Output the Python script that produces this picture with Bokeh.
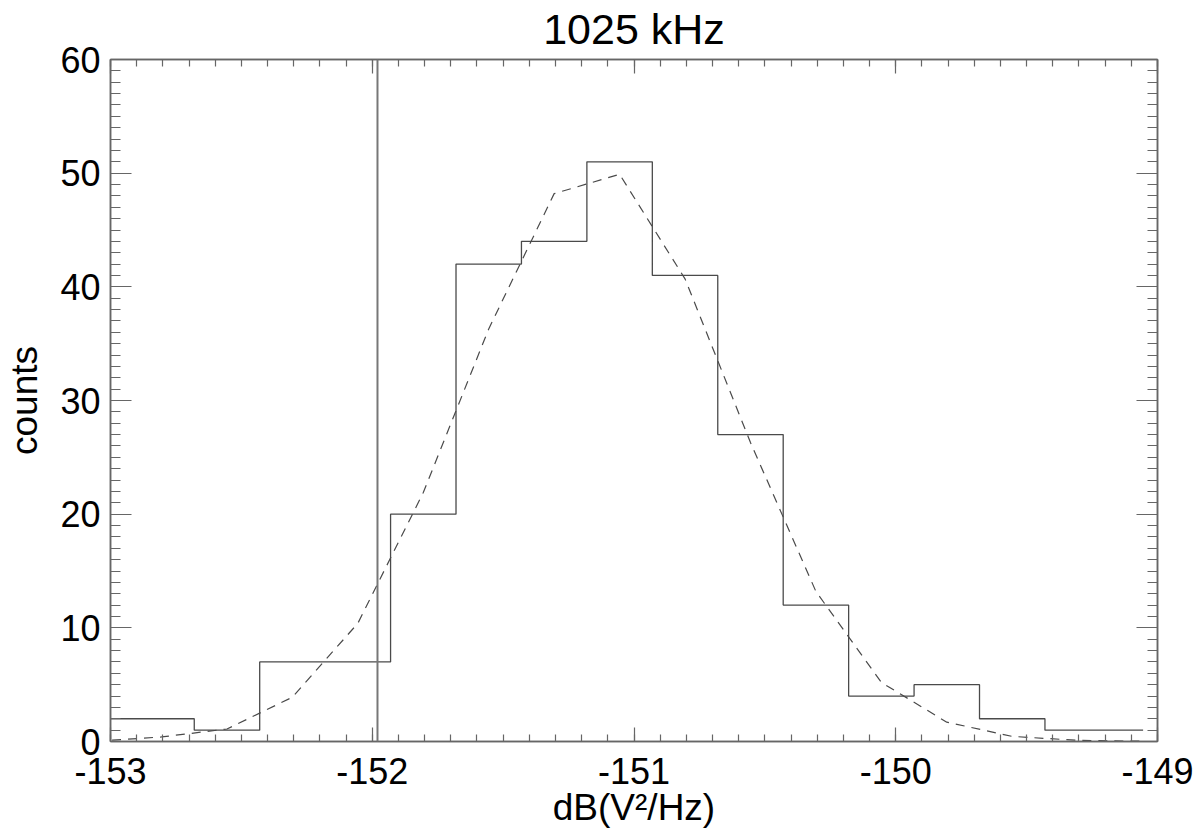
from bokeh.plotting import figure
from bokeh.models import (Range1d, LinearAxis, SingleIntervalTicker, Span,
                          PrintfTickFormatter, CustomLabelingPolicy)
from bokeh.embed import file_html
from bokeh.resources import INLINE

# ---- data ----
bin_centers = [-153.055, -152.805, -152.555, -152.305, -152.055, -151.805,
               -151.555, -151.305, -151.055, -150.805, -150.555, -150.305,
               -150.055, -149.805, -149.555, -149.305, -149.055]
counts = [2, 2, 1, 7, 7, 20, 42, 44, 51, 41, 27, 12, 4, 5, 2, 1, 1]
fit_counts = [0.02, 0.4, 1.1, 3.9, 10.4, 21.9, 36.3, 48.2, 49.9, 40.7,
              26.3, 13.2, 5.2, 1.7, 0.45, 0.1, 0.02]
threshold_db = -151.98
x_limits = [-153, -149]
y_limits = [0, 60]
title_text = "1025 kHz"
x_label = "dB(V\u00b2/Hz)"
y_label = "counts"

FONT = "Liberation Sans"
LINE = "#4a4a4a"
AXC = "#666666"

p = figure(width=1200, height=839, output_backend="svg", toolbar_location=None,
           x_range=Range1d(*x_limits), y_range=Range1d(*y_limits),
           min_border_left=110, min_border_right=43, min_border_top=59,
           min_border_bottom=98)
p.background_fill_color = "white"
p.border_fill_color = "white"
p.outline_line_color = AXC
p.outline_line_width = 1.5
p.xgrid.visible = False
p.ygrid.visible = False

p.title.text = title_text
p.title.align = "center"
p.title.text_font = FONT
p.title.text_font_size = "43px"
p.title.text_font_style = "normal"
p.title.text_color = "black"
p.title.standoff = 5

hide_labels = CustomLabelingPolicy(code="""
for (const i of indices) { indices.unset(i) }
return indices
""")


def style(ax, major_in, minor_in, labels=True):
    ax.axis_line_color = AXC
    ax.axis_line_width = 1.5
    ax.major_tick_line_color = AXC
    ax.minor_tick_line_color = AXC
    ax.major_tick_line_width = 1.2
    ax.minor_tick_line_width = 1.2
    ax.major_tick_in = major_in
    ax.major_tick_out = 0
    ax.minor_tick_in = minor_in
    ax.minor_tick_out = 0
    ax.major_label_text_font = FONT
    ax.major_label_text_color = "black"
    ax.axis_label_text_font = FONT
    ax.axis_label_text_font_style = "normal"
    ax.axis_label_text_color = "black"
    ax.formatter = PrintfTickFormatter(format="%d")
    if labels:
        ax.major_label_text_font_size = "36px"
        ax.axis_label_text_font_size = "37px"
    else:
        ax.major_label_text_font_size = "1px"
        ax.major_label_standoff = 0
        ax.major_label_policy = hide_labels


xa = p.xaxis[0]
xa.ticker = SingleIntervalTicker(interval=1, num_minor_ticks=10)
style(xa, 14, 7)
xa.axis_label = x_label
xa.major_label_standoff = 16
xa.axis_label_standoff = 0

ya = p.yaxis[0]
ya.ticker = SingleIntervalTicker(interval=10, num_minor_ticks=10)
style(ya, 21, 10)
ya.axis_label = y_label
ya.major_label_standoff = 10
ya.axis_label_standoff = 12

top = LinearAxis(ticker=SingleIntervalTicker(interval=1, num_minor_ticks=10))
style(top, 14, 7, labels=False)
p.add_layout(top, "above")

right = LinearAxis(ticker=SingleIntervalTicker(interval=10, num_minor_ticks=10))
style(right, 21, 10, labels=False)
p.add_layout(right, "right")

# histogram (step at bin midpoints)
p.step(bin_centers, counts, mode="center", line_color=LINE, line_width=1.3)
# fitted curve
p.line(bin_centers, fit_counts, line_color=LINE, line_width=1.2, line_dash="9 7")
# threshold line
p.add_layout(Span(location=threshold_db, dimension="height",
                  line_color="#777777", line_width=2))

open("out.html", "w").write(file_html(p, INLINE))
